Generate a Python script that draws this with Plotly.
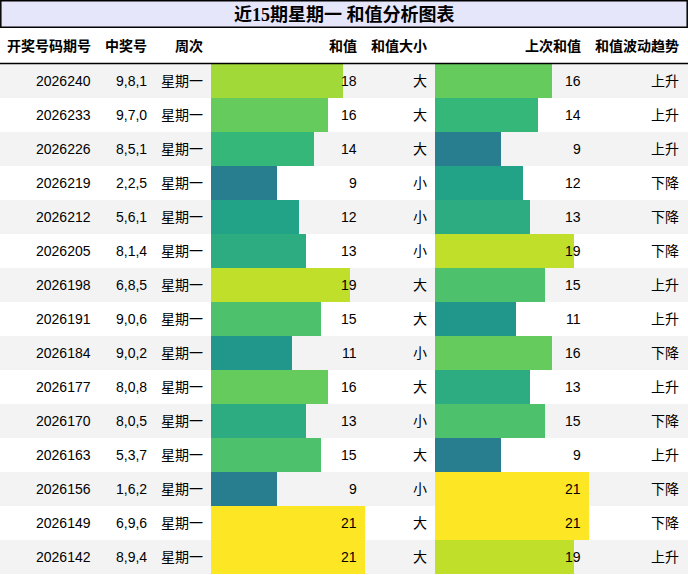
import plotly.graph_objects as go

# --- data ---
periods = ["2026240", "2026233", "2026226", "2026219", "2026212", "2026205", "2026198", "2026191",
           "2026184", "2026177", "2026170", "2026163", "2026156", "2026149", "2026142"]
numbers = ["9,8,1", "9,7,0", "8,5,1", "2,2,5", "5,6,1", "8,1,4", "6,8,5", "9,0,6",
           "9,0,2", "8,0,8", "8,0,5", "5,3,7", "1,6,2", "6,9,6", "8,9,4"]
weekday = ["星期一"] * 15
sums = [18, 16, 14, 9, 12, 13, 19, 15, 11, 16, 13, 15, 9, 21, 21]
sum_size = ["大", "大", "大", "小", "小", "小", "大", "大", "小", "大", "小", "大", "小", "大", "大"]
prev_sums = [16, 14, 9, 12, 13, 19, 15, 11, 16, 13, 15, 9, 21, 21, 19]
trend = ["上升", "上升", "上升", "下降", "下降", "下降", "上升", "上升", "下降", "上升",
         "下降", "上升", "下降", "下降", "上升"]
headers = ["开奖号码期号", "中奖号", "周次", "和值", "和值大小", "上次和值", "和值波动趋势"]
title = "近15期星期一 和值分析图表"

W, H = 688, 575
FONT = "Liberation Sans, Arial, Noto Sans CJK SC, sans-serif"
rows = list(range(len(periods)))
vmax = 21

fig = go.Figure()

# data bars: 和值 on x, 上次和值 on x2, coloured by value via viridis
for vals, xa in [(sums, "x"), (prev_sums, "x2")]:
    fig.add_trace(go.Bar(
        x=vals, y=rows, orientation="h", width=1, xaxis=xa, yaxis="y",
        marker=dict(color=vals, colorscale="Viridis", cmin=0, cmax=vmax, line=dict(width=0)),
        hoverinfo="skip", showlegend=False,
    ))

body_top, body_bot = 64, 574
fig.update_layout(
    width=W, height=H, margin=dict(l=0, r=0, t=0, b=0),
    paper_bgcolor="white", plot_bgcolor="rgba(0,0,0,0)",
    showlegend=False, bargap=0,
    xaxis=dict(domain=[211 / W, 365 / W], range=[0, vmax], visible=False, fixedrange=True),
    xaxis2=dict(domain=[435 / W, 589 / W], range=[0, vmax], visible=False, fixedrange=True, anchor="y"),
    yaxis=dict(domain=[1 - body_bot / H, 1 - body_top / H], range=[len(rows) - 0.5, -0.5],
               visible=False, fixedrange=True),
)

# row stripes
shapes = []
for i in rows:
    if i % 2 == 0:
        shapes.append(dict(type="rect", xref="paper", yref="y", x0=0, x1=1, y0=i - 0.5, y1=i + 0.5,
                           fillcolor="#f3f3f3", line=dict(width=0), layer="below"))
# title box and header rule
shapes.append(dict(type="rect", xref="paper", yref="paper", x0=0.8 / W, x1=1 - 0.8 / W,
                   y0=1 - 27.2 / H, y1=1 - 0.8 / H, fillcolor="#e6e6fa",
                   line=dict(color="black", width=1.5), layer="below"))
shapes.append(dict(type="line", xref="paper", yref="paper", x0=0, x1=1,
                   y0=1 - 63.5 / H, y1=1 - 63.5 / H, line=dict(color="black", width=1.5)))

annotations = [dict(text=f"<b>{title}</b>", xref="paper", yref="paper", x=344 / W, y=1 - 14.5 / H,
                    showarrow=False, xanchor="center", yanchor="middle",
                    font=dict(family="Liberation Serif, Noto Sans CJK SC, serif", size=18, color="black"))]

col_right = [93, 149, 205, 359, 429, 583, 681]
for h, xr in zip(headers, col_right):
    annotations.append(dict(text=f"<b>{h}</b>", xref="paper", yref="paper", x=xr / W, y=1 - 46 / H,
                            showarrow=False, xanchor="right", yanchor="middle",
                            font=dict(family=FONT, size=14, color="black")))

columns = [periods, numbers, weekday, [str(v) for v in sums], sum_size, [str(v) for v in prev_sums], trend]
for col, xr in zip(columns, col_right):
    for i, t in zip(rows, col):
        annotations.append(dict(text=t, xref="paper", yref="y", x=xr / W, y=i,
                                showarrow=False, xanchor="right", yanchor="middle",
                                font=dict(family=FONT, size=14, color="black")))

fig.update_layout(shapes=shapes, annotations=annotations)

# page body has a default 8px margin; drop it so the figure fills the window
fig.write_html("out.html", config={"displayModeBar": False},
               post_script="document.body.style.margin='0';")
